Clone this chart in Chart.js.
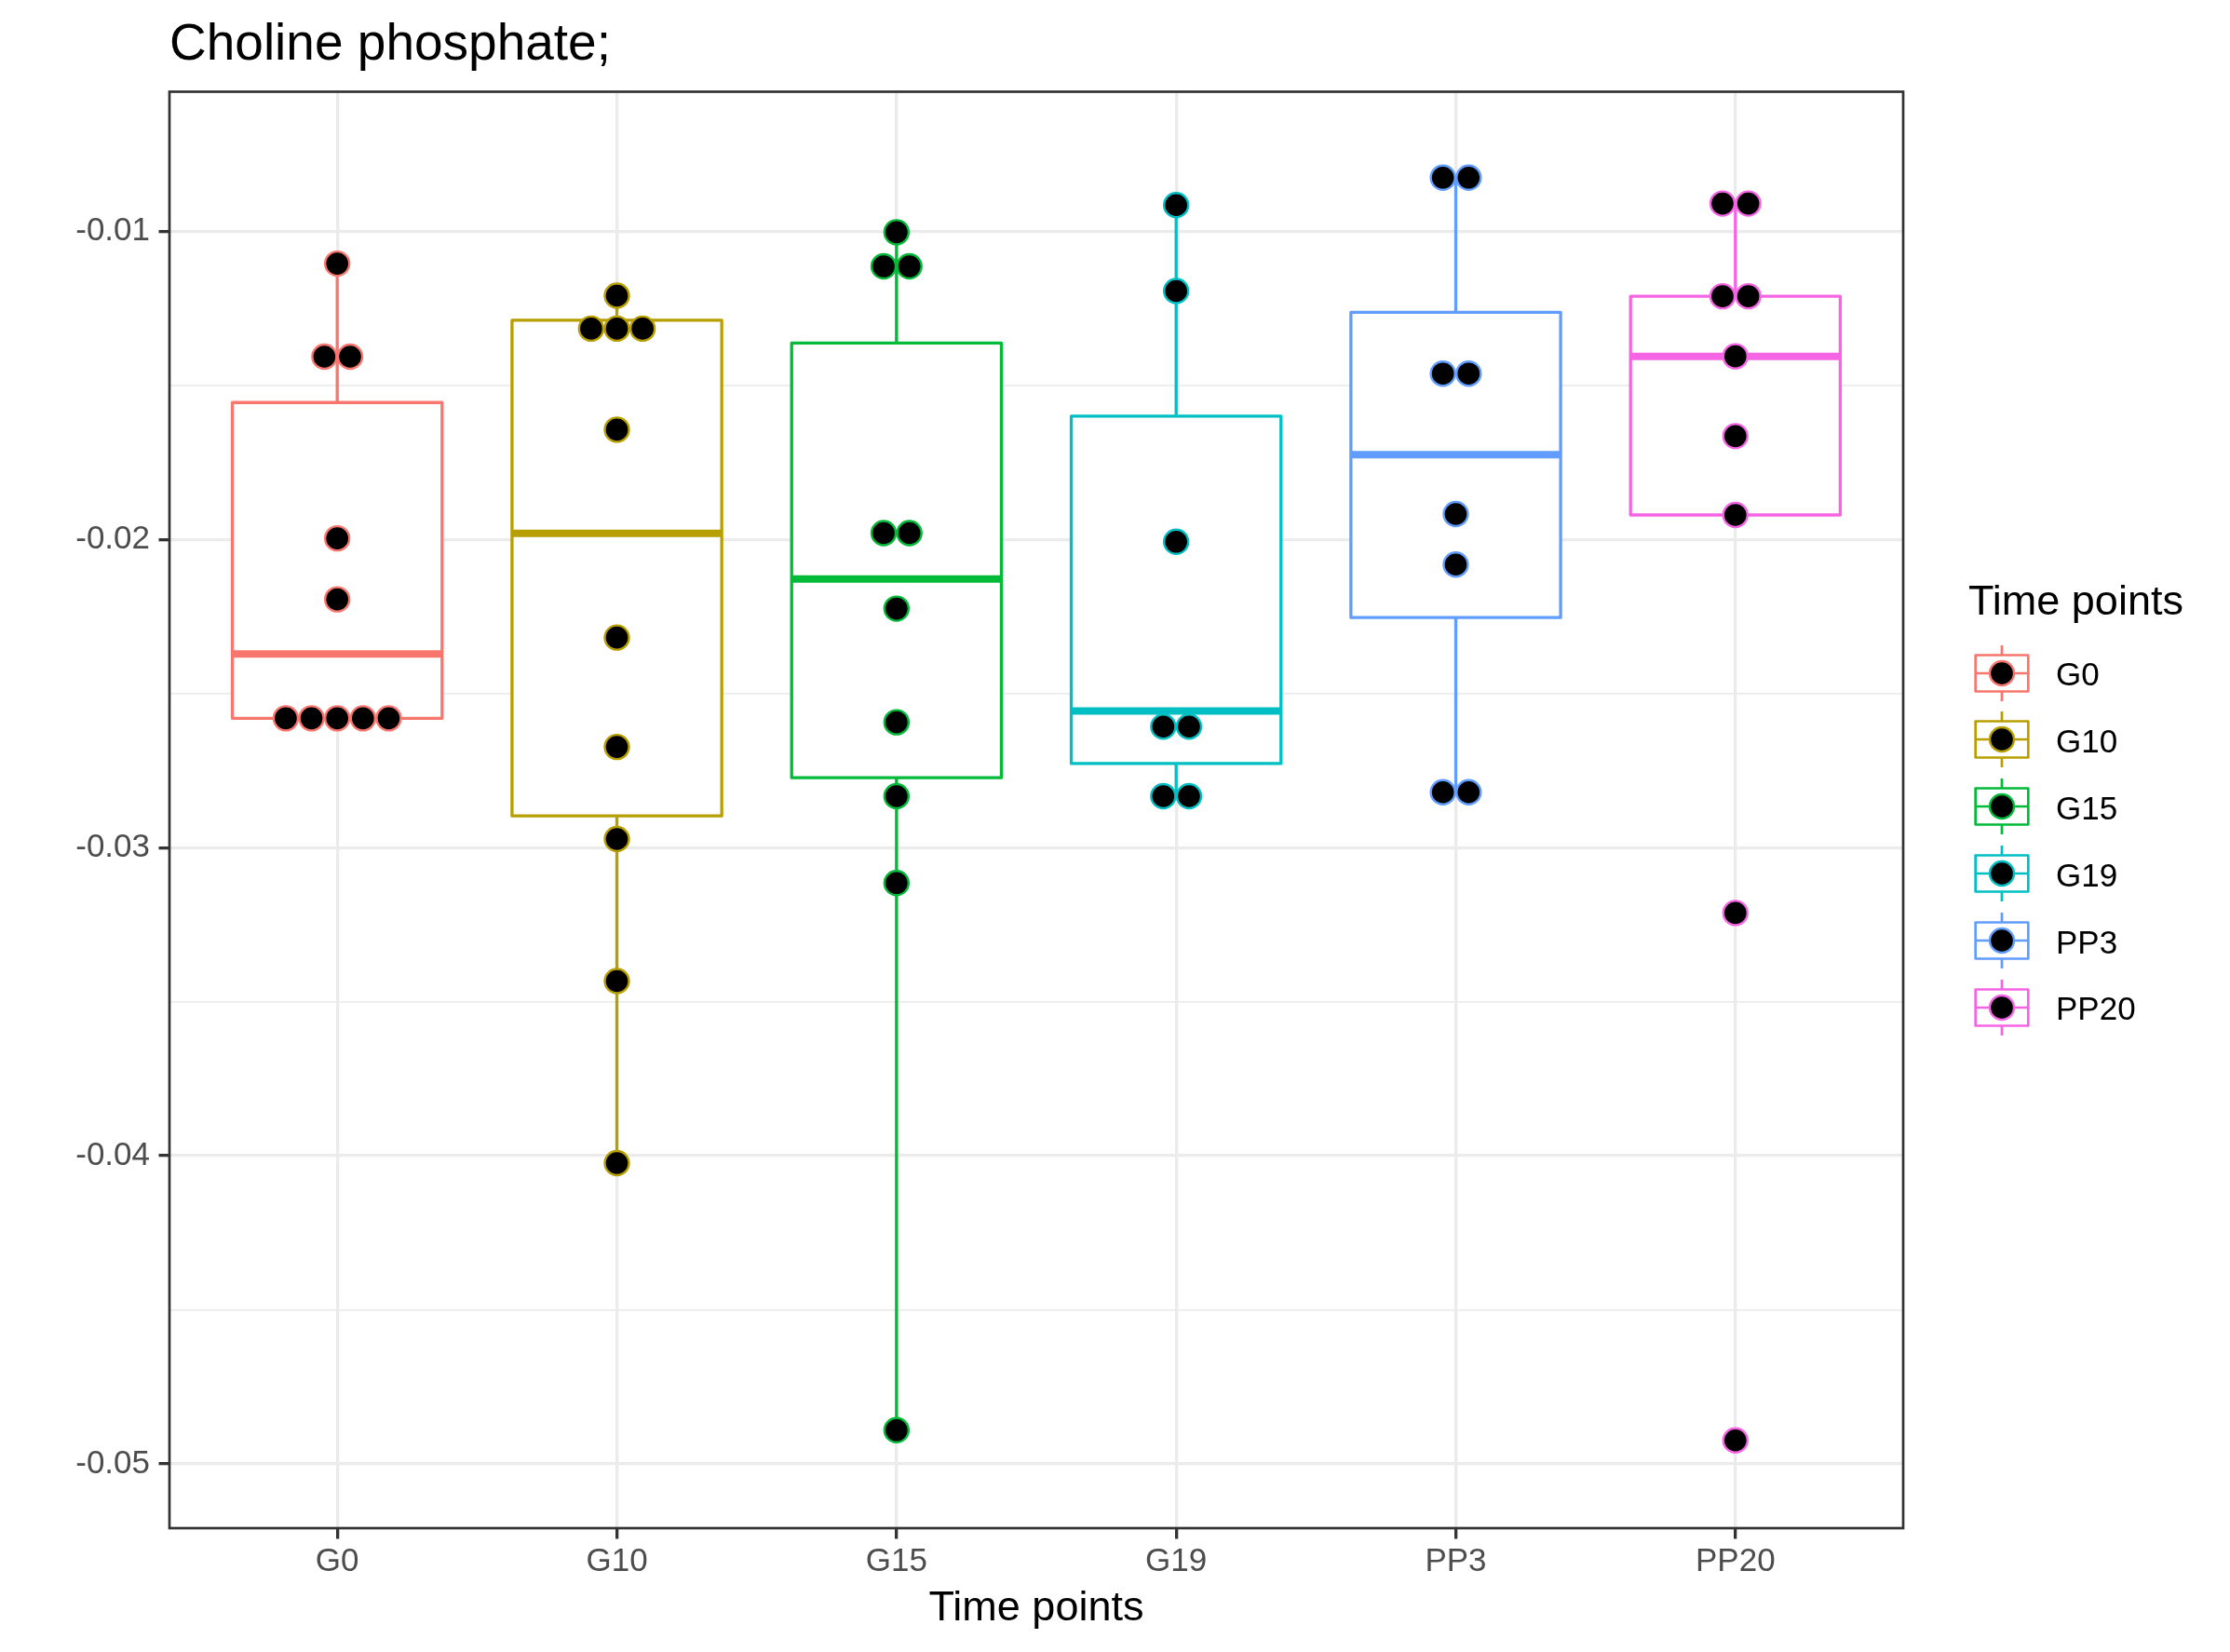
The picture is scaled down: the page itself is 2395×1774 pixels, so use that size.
<!DOCTYPE html>
<html lang="en">
<head>
    <meta charset="UTF-8">
    <title>Choline phosphate</title>
    <script src="https://cdn.jsdelivr.net/npm/chart.js"></script>
    <style>
        body {
            margin: 0;
            background: #fff;
        }
        #wrap {
            position: relative;
            width: 2395px;
            height: 1774px;
            font-family: "Liberation Sans", Arial, Helvetica, sans-serif;
        }
        #chart {
            position: absolute;
            left: 0;
            top: 0;
        }
        .legend-title {
            position: absolute;
            font-size: 45px;
            line-height: 45px;
            color: #000;
            white-space: nowrap;
        }
        .legend-key {
            position: absolute;
        }
        .legend-label {
            position: absolute;
            font-size: 35px;
            line-height: 35px;
            color: #000;
            white-space: nowrap;
        }
    </style>
</head>
<body>
    <div id="wrap">
        <canvas id="chart" width="2395" height="1774"></canvas>
        <div id="legend"></div>
    </div>

    <script>
        // categories and colours (ggplot default hues)
        const categories = ['G0', 'G10', 'G15', 'G19', 'PP3', 'PP20'];
        const groupColors = ['#F8766D', '#B79F00', '#00BA38', '#00BFC4', '#619CFF', '#F564E3'];

        // individual samples per time point
        const g0Values = [-0.01104, -0.01406, -0.01406, -0.01996, -0.02194, -0.02580, -0.02580, -0.02580, -0.02580, -0.02580];
        const g10Values = [-0.01208, -0.01315, -0.01315, -0.01315, -0.01643, -0.02318, -0.02673, -0.02972, -0.03433, -0.04024];
        const g15Values = [-0.01002, -0.01113, -0.01113, -0.01979, -0.01979, -0.02224, -0.02593, -0.02833, -0.03115, -0.04891];
        const g19Values = [-0.00914, -0.01193, -0.02007, -0.02607, -0.02607, -0.02833, -0.02833];
        const pp3Values = [-0.00825, -0.00825, -0.01461, -0.01461, -0.01917, -0.02081, -0.02820, -0.02820];
        const pp20Values = [-0.00909, -0.00909, -0.01210, -0.01210, -0.01405, -0.01664, -0.01920, -0.03212, -0.04924];
        const groupValues = [g0Values, g10Values, g15Values, g19Values, pp3Values, pp20Values];

        // box plot statistics
        const whiskerLow = [-0.02580, -0.04024, -0.04891, -0.02833, -0.02820, -0.01920];
        const boxQ1 = [-0.02580, -0.02897, -0.02773, -0.02727, -0.02253, -0.01920];
        const boxMedian = [-0.02371, -0.01980, -0.02128, -0.02556, -0.01724, -0.01405];
        const boxQ3 = [-0.01555, -0.01288, -0.01362, -0.01599, -0.01262, -0.01210];
        const whiskerHigh = [-0.01104, -0.01208, -0.01002, -0.00914, -0.00825, -0.00909];

        // axis ticks
        const yMajorTicks = [-0.05, -0.04, -0.03, -0.02, -0.01];
        const yTickLabels = ['-0.05', '-0.04', '-0.03', '-0.02', '-0.01'];
        const yMinorTicks = [-0.045, -0.035, -0.025, -0.015];
        const yMin = -0.05209;
        const yMax = -0.00546;

        const boxWidth = 0.75;
        const dodge = 0.092;

        const FONT = '"Liberation Sans", Arial, Helvetica, sans-serif';

        // spread identical values side by side like a beeswarm
        function swarm(values, idx) {
            const counts = {};
            values.forEach(v => { counts[v] = (counts[v] || 0) + 1; });
            const seen = {};
            return values.map(v => {
                const j = seen[v] || 0;
                seen[v] = j + 1;
                return { x: idx + (j - (counts[v] - 1) / 2) * dodge, y: v };
            });
        }

        const boxPlugin = {
            id: 'boxes',
            beforeDatasetsDraw(chart) {
                const { ctx, scales: { x, y } } = chart;
                ctx.save();
                categories.forEach((cat, i) => {
                    const cx = x.getPixelForValue(i);
                    const half = x.getPixelForValue(i + boxWidth / 2) - cx;
                    const yLo = y.getPixelForValue(whiskerLow[i]);
                    const yQ1 = y.getPixelForValue(boxQ1[i]);
                    const yMed = y.getPixelForValue(boxMedian[i]);
                    const yQ3 = y.getPixelForValue(boxQ3[i]);
                    const yHi = y.getPixelForValue(whiskerHigh[i]);

                    ctx.strokeStyle = groupColors[i];
                    ctx.lineWidth = 3.3;
                    ctx.lineCap = 'butt';
                    ctx.beginPath();
                    ctx.moveTo(cx, yQ3);
                    ctx.lineTo(cx, yHi);
                    ctx.moveTo(cx, yQ1);
                    ctx.lineTo(cx, yLo);
                    ctx.stroke();

                    ctx.fillStyle = '#fff';
                    ctx.fillRect(cx - half, yQ3, 2 * half, yQ1 - yQ3);
                    ctx.lineJoin = 'round';
                    ctx.strokeRect(cx - half, yQ3, 2 * half, yQ1 - yQ3);

                    ctx.lineWidth = 8;
                    ctx.beginPath();
                    ctx.moveTo(cx - half, yMed);
                    ctx.lineTo(cx + half, yMed);
                    ctx.stroke();
                });
                ctx.restore();
            }
        };

        const panelPlugin = {
            id: 'panel',
            afterLayout(chart) {
                // title starts at the panel edge, like ggplot
                if (chart.titleBlock) chart.titleBlock.left = chart.chartArea.left;
            },
            afterDraw(chart) {
                const { ctx, chartArea: a } = chart;
                ctx.save();
                ctx.strokeStyle = '#333333';
                ctx.lineWidth = 2.7;
                ctx.strokeRect(a.left, a.top, a.right - a.left, a.bottom - a.top);
                ctx.restore();
            }
        };

        const isMinor = v => yMinorTicks.some(m => Math.abs(m - v) < 1e-9);

        const datasets = categories.map((cat, i) => ({
            label: cat,
            data: swarm(groupValues[i], i),
            pointRadius: 13,
            pointBorderWidth: 2.4,
            pointBackgroundColor: '#000000',
            pointBorderColor: groupColors[i],
            pointHoverRadius: 13
        }));

        new Chart(document.getElementById('chart').getContext('2d'), {
            type: 'scatter',
            data: { datasets: datasets },
            options: {
                responsive: false,
                devicePixelRatio: 1,
                animation: false,
                events: [],
                layout: { padding: { left: 0, right: 351, top: 0, bottom: 0 } },
                plugins: {
                    legend: { display: false },
                    tooltip: { enabled: false },
                    title: {
                        display: true,
                        text: 'Choline phosphate;',
                        align: 'start',
                        color: '#000000',
                        font: { family: FONT, size: 55, weight: 'normal', lineHeight: 1.2 },
                        padding: { top: 15.5, bottom: 17 }
                    }
                },
                scales: {
                    x: {
                        type: 'linear',
                        min: -0.6,
                        max: 5.6,
                        afterBuildTicks: scale => {
                            scale.ticks = categories.map((c, i) => ({ value: i }));
                        },
                        afterFit: scale => { scale.height = 133; },
                        ticks: {
                            autoSkip: false,
                            maxRotation: 0,
                            padding: 4,
                            color: '#4D4D4D',
                            font: { family: FONT, size: 35 },
                            callback: value => categories[value]
                        },
                        grid: {
                            color: '#EBEBEB',
                            lineWidth: 3.3,
                            tickLength: 11.5,
                            tickWidth: 3.3,
                            tickColor: '#333333'
                        },
                        border: { display: false },
                        title: {
                            display: true,
                            text: 'Time points',
                            color: '#000000',
                            font: { family: FONT, size: 45, lineHeight: 1.2 },
                            padding: { top: 0, bottom: 19.5 }
                        }
                    },
                    y: {
                        type: 'linear',
                        min: yMin,
                        max: yMax,
                        afterBuildTicks: scale => {
                            scale.ticks = yMajorTicks.concat(yMinorTicks)
                                .sort((a, b) => a - b)
                                .map(v => ({ value: v }));
                        },
                        afterFit: scale => { scale.width = 182; },
                        ticks: {
                            autoSkip: false,
                            padding: 9.5,
                            color: '#4D4D4D',
                            font: { family: FONT, size: 35 },
                            callback: value => {
                                const k = yMajorTicks.findIndex(t => Math.abs(t - value) < 1e-9);
                                return k >= 0 ? yTickLabels[k] : '';
                            }
                        },
                        grid: {
                            color: '#EBEBEB',
                            lineWidth: ctx => (ctx.tick && isMinor(ctx.tick.value)) ? 1.65 : 3.3,
                            tickLength: 11.5,
                            tickWidth: ctx => (ctx.tick && isMinor(ctx.tick.value)) ? 0 : 3.3,
                            tickColor: ctx => (ctx.tick && isMinor(ctx.tick.value)) ? 'rgba(0,0,0,0)' : '#333333'
                        },
                        border: { display: false }
                    }
                }
            },
            plugins: [boxPlugin, panelPlugin]
        });

        // legend, laid out like the ggplot guide
        const legend = document.getElementById('legend');
        const legendTitle = document.createElement('div');
        legendTitle.className = 'legend-title';
        legendTitle.textContent = 'Time points';
        legendTitle.style.left = '2114px';
        legendTitle.style.top = '622px';
        legend.appendChild(legendTitle);

        categories.forEach((cat, i) => {
            const cy = 722.5 + i * 71.8;
            const key = document.createElement('canvas');
            key.className = 'legend-key';
            key.width = 80;
            key.height = 80;
            key.style.left = (2150 - 40) + 'px';
            key.style.top = (cy - 40) + 'px';
            const k = key.getContext('2d');
            k.strokeStyle = groupColors[i];
            k.lineWidth = 2.7;
            k.beginPath();
            k.moveTo(40, 10);
            k.lineTo(40, 20.5);
            k.moveTo(40, 59.5);
            k.lineTo(40, 70);
            k.moveTo(11.7, 40);
            k.lineTo(68.3, 40);
            k.stroke();
            k.lineJoin = 'round';
            k.strokeRect(11.7, 20.5, 56.6, 39);
            k.beginPath();
            k.arc(40, 40, 13, 0, Math.PI * 2);
            k.fillStyle = '#000';
            k.fill();
            k.lineWidth = 2.4;
            k.stroke();
            legend.appendChild(key);

            const label = document.createElement('div');
            label.className = 'legend-label';
            label.textContent = cat;
            label.style.left = '2208px';
            label.style.top = (cy - 16.1) + 'px';
            legend.appendChild(label);
        });
    </script>
</body>
</html>
